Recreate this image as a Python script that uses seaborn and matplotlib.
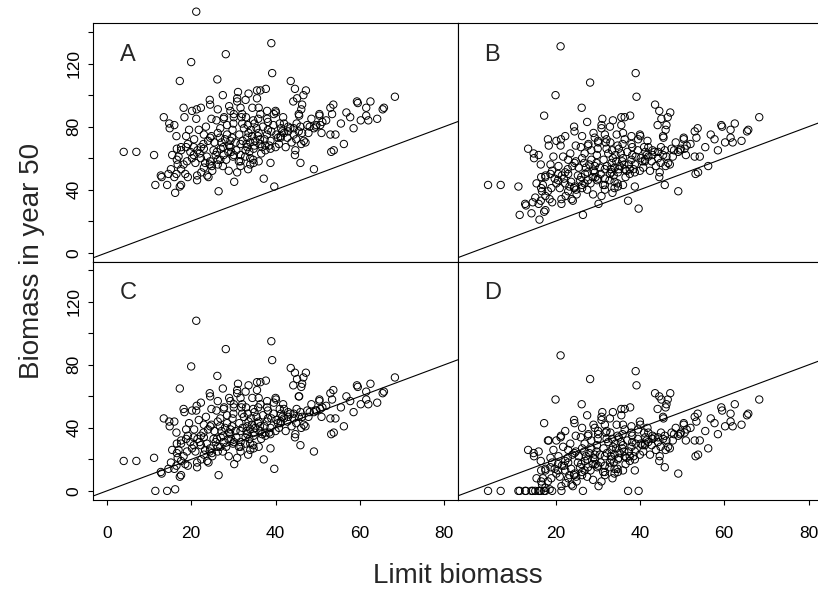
import numpy as np
import pandas as pd
import matplotlib
matplotlib.use("Agg")
import matplotlib.pyplot as plt
import seaborn as sns

# limit biomass (shared by all four scenarios)
limit_biomass = [
    21.2, 39.0, 28.2, 20.0, 39.2, 17.3, 26.2, 43.6, 68.3, 59.3,
    59.5, 62.5, 65.7, 65.4, 61.5, 64.1, 62.0, 60.2, 61.5, 57.7,
    56.8, 53.7, 53.0, 53.4, 4.0, 7.0, 11.2, 13.5, 14.8, 16.0,
    14.9, 16.5, 18.2, 20.2, 21.3, 22.3, 18.4, 21.2, 24.4, 24.8,
    26.3, 27.5, 27.7, 27.8, 24.5, 31.1, 33.6, 35.6, 36.4, 37.7,
    32.9, 30.9, 31.7, 35.6, 36.0, 38.0, 40.0, 40.1, 35.9, 32.1,
    29.3, 30.1, 31.9, 33.4, 34.7, 36.4, 38.2, 41.8, 41.0, 44.6,
    47.2, 45.1, 46.6, 44.2, 46.3, 46.1, 45.6, 45.5, 50.4, 50.4,
    50.6, 51.1, 49.5, 47.5, 48.1, 45.9, 44.3, 43.0, 43.5, 41.6,
    40.2, 38.2, 38.0, 38.8, 41.2, 40.6, 42.8, 44.9, 46.3, 46.7,
    46.1, 47.1, 50.9, 53.0, 54.2, 56.2, 53.2, 53.8, 44.7, 44.6,
    45.9, 49.1, 38.8, 37.2, 39.7, 30.2, 26.5, 30.9, 31.7, 31.3,
    34.7, 34.0, 28.9, 26.9, 26.3, 24.9, 24.1, 23.8, 22.4, 21.4,
    23.0, 21.0, 20.2, 18.6, 17.6, 17.3, 16.2, 16.0, 16.5, 14.3,
    14.6, 12.8, 13.0, 11.5, 15.2, 15.5, 16.6, 17.6, 18.8, 20.6,
    19.8, 21.5, 22.3, 23.7, 22.9, 20.7, 18.8, 19.2, 17.6, 24.8,
    26.3, 26.8, 26.9, 28.5, 28.0, 29.3, 29.3, 29.0, 29.5, 30.1,
    30.7, 31.7, 31.7, 33.1, 33.3, 34.4, 33.6, 35.5, 36.0, 35.2,
    36.4, 36.8, 37.6, 34.8, 32.9, 24.5, 23.0, 22.3, 20.6, 25.3,
    26.1, 27.7, 28.3, 29.9, 26.3, 24.5, 24.4, 34.0, 17.6, 18.2,
    16.6, 19.2, 21.4, 16.8, 30.9, 30.1, 32.1, 38.0, 39.6, 41.3,
    43.0, 44.3, 45.5, 49.1, 49.7, 41.2, 42.4, 40.0, 38.8, 37.6,
    36.3, 34.0, 33.3, 29.7, 27.6, 31.7, 34.8, 22.0, 25.5, 27.0,
    32.5, 35.0, 37.0, 39.5, 42.0, 28.5, 23.5, 19.5,
    23.0, 24.0, 25.8, 27.2, 28.8, 29.8, 30.5, 31.4, 32.2, 32.8,
    33.8, 34.2, 35.0, 35.8, 36.6, 37.4, 38.5, 39.0, 40.8, 42.0,
    43.8, 45.0, 47.8, 48.5, 30.0, 33.0, 26.0, 21.8, 19.0, 17.0,
    23.3, 25.0, 27.5, 33.5, 36.0, 52.0, 55.5, 58.5, 29.0, 34.5,
]

# biomass in year 50, one list per panel
biomass_a = [
    153, 133, 126, 121, 114, 109, 110, 109, 99, 96,
    95, 96, 92, 91, 92, 85, 84, 84, 87, 86,
    89, 94, 92, 88, 64, 64, 62, 86, 82, 81,
    79, 74, 92, 90, 91, 92, 86, 85, 97, 85,
    91, 100, 85, 86, 94, 102, 101, 103, 103, 104,
    97, 96, 92, 98, 92, 90, 90, 89, 85, 88,
    90, 86, 86, 81, 84, 88, 83, 86, 82, 104,
    103, 98, 100, 96, 94, 91, 87, 88, 88, 87,
    81, 83, 80, 81, 80, 80, 79, 80, 79, 77,
    75, 78, 75, 71, 73, 73, 73, 72, 76, 71,
    69, 70, 76, 75, 75, 69, 64, 65, 65, 62,
    57, 53, 57, 47, 42, 45, 39, 51, 55, 58,
    59, 56, 52, 59, 56, 55, 48, 49, 51, 46,
    54, 57, 60, 50, 43, 42, 38, 48, 50, 43,
    50, 49, 48, 43, 53, 62, 66, 65, 67, 62,
    64, 65, 60, 61, 69, 72, 74, 69, 67, 74,
    76, 73, 79, 75, 72, 71, 67, 68, 64, 62,
    65, 62, 69, 69, 73, 74, 76, 79, 76, 71,
    69, 67, 65, 66, 65, 73, 75, 67, 67, 65,
    64, 62, 59, 61, 59, 58, 56, 60, 53, 56,
    59, 48, 49, 56, 98, 88, 82, 85, 88, 79,
    77, 75, 77, 79, 81, 74, 67, 67, 66, 68,
    72, 70, 67, 73, 67, 58, 57, 63, 70, 66,
    79, 82, 80, 81, 82, 81, 80, 78,
    66, 71, 62, 70, 64, 78, 70, 75, 71, 61,
    64, 78, 68, 74, 63, 72, 68, 77, 69, 76,
    70, 82, 76, 85, 82, 86, 84, 78, 58, 61,
    57, 52, 55, 53, 58, 84, 82, 79, 93, 92,
]

biomass_b = [
    131, 114, 108, 100, 99, 87, 92, 94, 86, 81,
    80, 82, 78, 77, 78, 71, 70, 70, 73, 72,
    75, 79, 77, 73, 43, 43, 42, 66, 63, 62,
    60, 56, 72, 71, 72, 74, 68, 68, 80, 68,
    74, 83, 68, 69, 77, 85, 84, 86, 86, 87,
    80, 79, 75, 81, 76, 74, 75, 74, 69, 72,
    73, 70, 70, 65, 68, 72, 67, 71, 67, 90,
    89, 85, 86, 81, 81, 78, 73, 74, 73, 72,
    66, 68, 65, 66, 65, 65, 64, 65, 64, 62,
    60, 62, 59, 56, 58, 58, 58, 57, 61, 57,
    55, 56, 62, 61, 61, 55, 50, 51, 51, 48,
    43, 39, 42, 33, 28, 31, 24, 36, 40, 43,
    44, 41, 37, 44, 41, 40, 33, 34, 36, 31,
    39, 41, 44, 34, 27, 26, 21, 31, 33, 25,
    32, 31, 30, 24, 35, 44, 48, 48, 50, 46,
    47, 49, 44, 45, 53, 55, 56, 52, 49, 58,
    60, 57, 63, 59, 56, 55, 51, 52, 48, 47,
    50, 47, 53, 53, 57, 58, 60, 63, 60, 55,
    53, 52, 50, 51, 50, 57, 59, 51, 50, 49,
    48, 46, 44, 46, 43, 42, 41, 45, 36, 39,
    41, 32, 34, 39, 81, 71, 66, 69, 72, 64,
    62, 60, 62, 64, 66, 59, 52, 52, 51, 53,
    56, 54, 51, 57, 51, 43, 42, 47, 54, 50,
    63, 66, 64, 65, 67, 65, 63, 61,
    50, 55, 46, 54, 48, 62, 54, 59, 55, 46,
    49, 62, 53, 58, 48, 56, 53, 61, 54, 61,
    55, 67, 61, 70, 66, 70, 67, 61, 41, 43,
    42, 37, 40, 38, 43, 69, 67, 65, 76, 75,
]

biomass_c = [
    108, 95, 90, 79, 83, 65, 73, 78, 72, 67,
    66, 68, 63, 62, 63, 56, 55, 55, 58, 57,
    60, 64, 62, 58, 19, 19, 21, 46, 44, 44,
    41, 37, 52, 51, 54, 56, 50, 51, 62, 52,
    57, 65, 52, 53, 60, 68, 67, 69, 69, 70,
    63, 62, 59, 64, 59, 57, 59, 58, 53, 55,
    57, 53, 53, 49, 52, 55, 51, 55, 52, 75,
    75, 71, 72, 67, 68, 66, 60, 60, 58, 57,
    52, 53, 51, 51, 50, 50, 49, 50, 49, 47,
    45, 46, 44, 40, 43, 43, 44, 43, 47, 42,
    40, 41, 47, 46, 46, 41, 36, 37, 36, 34,
    29, 25, 27, 20, 14, 17, 10, 21, 25, 28,
    29, 26, 22, 28, 25, 24, 18, 19, 20, 15,
    23, 25, 27, 17, 10, 9, 1, 14, 16, 0,
    14, 12, 11, 0, 18, 26, 30, 30, 33, 29,
    31, 33, 29, 30, 37, 39, 39, 35, 32, 42,
    44, 41, 46, 43, 40, 39, 36, 37, 33, 31,
    34, 31, 38, 38, 41, 42, 44, 47, 44, 40,
    38, 36, 35, 35, 34, 41, 42, 35, 34, 33,
    33, 31, 28, 30, 28, 27, 25, 30, 19, 22,
    24, 16, 18, 21, 64, 55, 49, 53, 56, 49,
    47, 46, 47, 50, 51, 44, 38, 38, 36, 37,
    41, 39, 36, 41, 35, 28, 27, 31, 38, 34,
    47, 50, 48, 49, 52, 48, 47, 43,
    34, 39, 31, 38, 33, 46, 38, 43, 40, 30,
    33, 46, 37, 43, 33, 41, 37, 46, 40, 46,
    41, 52, 47, 55, 49, 53, 51, 45, 25, 26,
    26, 22, 25, 23, 28, 54, 53, 50, 59, 59,
]

biomass_d = [
    86, 76, 71, 58, 67, 43, 55, 62, 58, 53,
    51, 55, 49, 48, 49, 42, 41, 41, 44, 43,
    46, 49, 47, 44, 0, 0, 0, 26, 24, 25,
    22, 19, 32, 32, 35, 38, 32, 34, 45, 35,
    40, 48, 35, 36, 43, 50, 50, 52, 52, 53,
    46, 45, 42, 48, 42, 41, 44, 42, 36, 38,
    40, 36, 37, 33, 35, 39, 35, 40, 37, 60,
    62, 58, 58, 52, 55, 53, 46, 47, 43, 42,
    37, 39, 36, 37, 36, 35, 34, 35, 34, 32,
    30, 31, 28, 25, 29, 29, 29, 28, 32, 28,
    26, 27, 32, 32, 32, 27, 22, 23, 22, 19,
    15, 11, 13, 0, 0, 3, 0, 6, 10, 12,
    14, 11, 7, 13, 10, 9, 3, 4, 5, 0,
    8, 9, 11, 1, 0, 0, 0, 0, 0, 0,
    0, 0, 0, 0, 0, 8, 13, 13, 15, 13,
    14, 16, 13, 14, 21, 22, 21, 18, 14, 25,
    27, 25, 30, 27, 24, 23, 20, 21, 17, 16,
    18, 16, 22, 22, 26, 27, 28, 31, 29, 24,
    22, 21, 19, 20, 18, 24, 26, 19, 17, 18,
    17, 15, 13, 15, 12, 11, 10, 14, 2, 6,
    6, 0, 3, 4, 47, 38, 33, 37, 39, 34,
    33, 31, 33, 35, 37, 30, 23, 23, 20, 22,
    25, 23, 20, 25, 20, 12, 12, 16, 22, 19,
    31, 34, 32, 33, 37, 32, 30, 26,
    18, 23, 15, 22, 17, 29, 23, 27, 24, 15,
    18, 30, 21, 27, 17, 25, 22, 30, 25, 31,
    26, 37, 32, 40, 33, 37, 34, 28, 8, 8,
    10, 6, 9, 8, 13, 40, 38, 36, 42, 42,
]

panel_names = ["A", "B", "C", "D"]
y_ticks = [0, 20, 40, 60, 80, 100, 120, 140]
y_tick_labels = ["0", "", "40", "", "80", "", "120", ""]
x_ticks_left = [0, 20, 40, 60, 80]
x_ticks_right = [20, 40, 60, 80]

frames = []
for name, vals in zip(panel_names, [biomass_a, biomass_b, biomass_c, biomass_d]):
    frames.append(pd.DataFrame({"limit": limit_biomass, "biomass": vals, "panel": name}))
df = pd.concat(frames, ignore_index=True)

sns.set_theme(style="ticks")
plt.rcParams["font.family"] = ["Liberation Sans", "DejaVu Sans"]

fig = plt.figure(figsize=(8.18, 5.89), dpi=100)

# panel geometry (figure fractions), right column runs past the edge as in the original
left_x, right_x = 0.1141, 0.5595
top_y, bottom_y = 0.5560, 0.1516
w, h = 0.4455, 0.4044
positions = {"A": [left_x, top_y, w, h], "B": [right_x, top_y, w, h],
             "C": [left_x, bottom_y, w, h], "D": [right_x, bottom_y, w, h]}

for name in panel_names:
    ax = fig.add_axes(positions[name])
    sub = df[df["panel"] == name]
    sns.scatterplot(data=sub, x="limit", y="biomass", ax=ax, marker="o",
                    s=28, facecolors="none", edgecolor="black", linewidth=0.7,
                    clip_on=False, legend=False)
    ax.axline((0, 0), slope=1, color="black", linewidth=0.8)
    ax.set_xlim(-3.2, 83.2)
    ax.set_ylim(-5.6, 145.6)
    ax.set_xlabel("")
    ax.set_ylabel("")
    for sp in ax.spines.values():
        sp.set_visible(True)
        sp.set_color("black")
        sp.set_linewidth(0.8)
    ax.tick_params(axis="both", direction="out", length=3.6, width=0.8,
                   color="black", labelsize=12.5, labelcolor="black")
    ax.tick_params(axis="x", pad=15)
    ax.tick_params(axis="y", pad=5)

    if name in ("A", "C"):
        ax.set_yticks(y_ticks, y_tick_labels)
        for lbl in ax.get_yticklabels():
            lbl.set_rotation(90)
            lbl.set_va("center")
    else:
        ax.set_yticks([])

    if name == "C":
        ax.set_xticks(x_ticks_left, [str(t) for t in x_ticks_left])
    elif name == "D":
        ax.set_xticks(x_ticks_right, [str(t) for t in x_ticks_right])
    else:
        ax.set_xticks([])

    ax.text(5, 122, name, ha="center", va="baseline", fontsize=17)

fig.text(458 / 818, 1 - 583 / 589, "Limit biomass", ha="center", va="baseline", fontsize=20)
fig.text(32 / 818, 1 - 261 / 589, "Biomass in year 50", ha="center", va="center",
         rotation=90, fontsize=20)

fig.savefig("out.png", dpi=100)
